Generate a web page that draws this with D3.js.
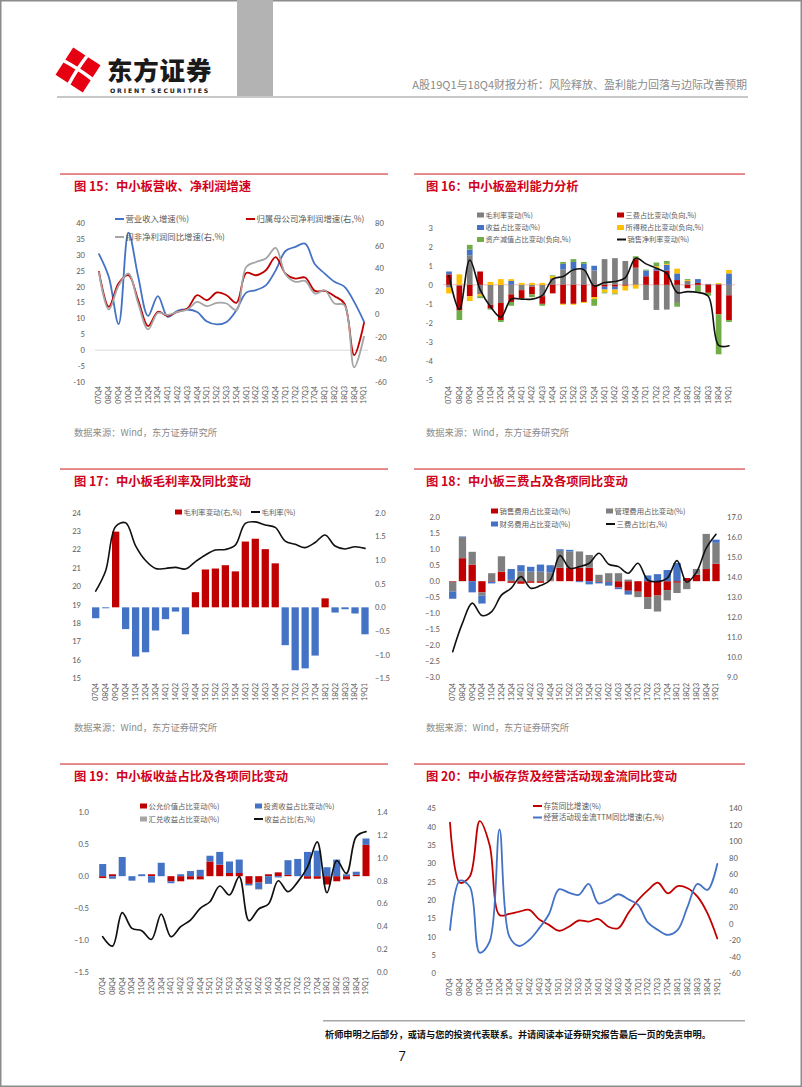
<!DOCTYPE html>
<html><head><meta charset="utf-8">
<script src="https://cdn.jsdelivr.net/npm/d3@7"></script>
<style>
html,body{margin:0;padding:0;background:#fff;}
svg{display:block;}
</style></head>
<body><svg id="page" width="802" height="1087"></svg>
<script>
// ---------------- DATA ----------------
const categories = ["07Q4","08Q4","09Q4","10Q4","11Q4","12Q4","13Q4","14Q1","14Q2","14Q3","14Q4","15Q1","15Q2","15Q3","15Q4","16Q1","16Q2","16Q3","16Q4","17Q1","17Q2","17Q3","17Q4","18Q1","18Q2","18Q3","18Q4","19Q1"];

// 图15
const c15Revenue   = [30.2,23,8.2,37,23,10.8,17,10.5,12.4,12.8,12,9,8.1,8.9,12.6,18.1,18.9,20.4,25.1,31.2,32.5,33.5,27,24.1,21.5,20,15.2,9];
const c15NetProfit = [37,6.2,27,34,12,-10.8,1.8,-1.7,1.8,4.7,16.4,12,18.8,16.4,9.7,36,34,38.4,50,35.5,31,32,20.2,20.2,15.6,9.1,-36.3,-7.9];
const c15Deducted  = [36,3.8,25,35.5,9,-13.7,0.9,-1,1.8,3.8,10.6,6.8,9.7,9.1,3.3,41.3,45.7,48.7,58,34.9,28.2,29,17.9,20.8,9.1,7.7,-47,-20];
const c15LeftTicks  = [40,35,30,25,20,15,10,5,0,-5,-10];
const c15RightTicks = [80,60,40,20,0,-20,-40,-60];

// 图16
const c16Gross  = [-0.15,-0.05,1.55,-0.5,-1.05,-0.95,-0.5,-0.28,-0.1,-0.6,0.35,0.8,0.8,0.8,0.75,1.35,1.4,1.25,0.9,-0.8,-1.32,-1.3,-0.95,0.2,-0.05,0.05,0.05,-0.55];
const c16Fee    = [0.55,-1.3,-0.6,0.7,-0.2,-0.9,-0.4,-0.42,-0.4,-0.4,-0.45,-1.0,-1.0,-0.9,-0.65,-0.1,-0.1,-0.05,0.45,0.45,0.75,0.75,0.25,-0.18,0.1,-0.42,-1.55,-1.3];
const c16Income = [0.15,0,0.3,0,0,0,0.2,0,0,0,0,0.3,0.4,0.3,0.25,-0.15,-0.15,0,0,0.3,0.12,0.3,0.35,0,0.2,0,0,0.6];
const c16Tax    = [-0.3,0.55,-0.25,-0.1,0.15,0.3,0.1,0.1,0.1,0.1,0.1,-0.05,-0.05,-0.05,-0.1,-0.15,-0.2,-0.25,-0.2,0,0.1,0.05,0.25,0.05,0,0,0.05,0.18];
const c16Impair = [0,-0.5,0.25,-0.1,-0.05,-0.1,-0.2,-0.05,-0.15,-0.1,0.05,0.1,0.15,0.1,-0.35,-0.05,-0.05,0,0.15,0.05,0.2,0.15,-0.2,0.05,-0.35,-0.15,-2.1,-0.1];
const c16NetMargin = [0.47,-1.3,1.3,-0.25,-1.15,-1.7,-0.75,-0.75,-0.75,-0.55,0.3,0.44,0.79,0.8,-0.06,0.12,0.17,0.38,1.4,1.1,0.87,0.6,-0.4,-0.36,-0.4,-0.6,-3.18,-3.2];
const c16Ticks = [3,2,1,0,-1,-2,-3,-4,-5];

// 图17
const c17Change = [-0.23,-0.02,1.6,-0.46,-1.04,-0.95,-0.49,-0.25,-0.09,-0.57,0.32,0.8,0.82,0.89,0.76,1.39,1.45,1.23,0.93,-0.8,-1.33,-1.29,-1.02,0.19,-0.11,-0.04,-0.13,-0.57];
const c17Gross  = [19.74,20.85,23.25,23.45,22.2,21.4,20.97,20.97,21.03,20.94,21.34,21.7,21.97,22.0,22.24,23.42,23.5,23.33,23.2,22.46,22.28,22.1,22.38,22.79,22.19,22.03,22.15,22.06];
const c17LeftTicks  = [24,23,22,21,20,19,18,17,16,15];
const c17RightTicks = [2.0,1.5,1.0,0.5,0.0,-0.5,-1.0,-1.5];

// 图18
const c18Sales = [-0.02,0.72,0.52,-0.35,-0.02,0.3,-0.05,-0.08,-0.05,-0.05,0.02,0.42,0.42,0.42,0.42,-0.02,-0.02,-0.2,-0.3,-0.33,-0.5,-0.45,-0.28,-0.05,0.1,0.2,0.38,0.55];
const c18Admin = [-0.3,0.66,0.4,-0.1,0.25,0.48,0.04,0.3,0.3,0.3,0.25,0.53,0.51,0.51,0.4,0.2,0.25,0.25,0.05,-0.17,-0.37,-0.5,-0.32,-0.32,-0.25,0.18,1.1,0.65];
const c18Fin   = [-0.23,0.02,-0.35,-0.25,-0.05,0,0.34,0.2,0.15,0.22,0.23,0.05,0.05,-0.03,-0.1,-0.05,-0.12,-0.05,-0.12,0,0.18,0.22,0.35,0.57,0,0,0,0.1];
const c18Total = [10.27,11.7,12.7,12.08,12.28,13.1,13.45,14.03,13.45,13.58,13.86,15.08,14.45,14.53,14.7,15.2,14.65,14.53,14.2,14.7,13.86,13.78,13.95,14.83,13.75,14.25,15.45,16.15];
const c18LeftTicks  = [2.0,1.5,1.0,0.5,0.0,-0.5,-1.0,-1.5,-2.0,-2.5,-3.0];
const c18RightTicks = [17.0,16.0,15.0,14.0,13.0,12.0,11.0,10.0,9.0];

// 图19
const c19Fair   = [-0.03,0.03,0,0,0,0.03,0,-0.08,-0.08,-0.05,-0.05,0.23,0.18,0.05,0.05,-0.12,-0.1,0.03,0.06,0.02,0,-0.04,-0.04,-0.13,-0.08,-0.05,0.02,0.49];
const c19Invest = [0.19,-0.04,0.3,-0.07,0.03,-0.1,0.21,-0.03,0.03,0.08,0.1,0.09,0.2,0.18,0.21,-0.02,-0.1,-0.12,-0.02,0.23,0.27,0.38,0.4,0.14,0.26,0.03,0.05,0.1];
const c19FX     = [0,0,0,0,0,0,0,0,0,0,0,0,0,0,0,-0.01,-0.01,0,0,0,0,0,0,0,0,0.01,0,0];
const c19Share  = [0.309,0.227,0.52,0.382,0.362,0.286,0.508,0.309,0.397,0.455,0.558,0.616,0.754,0.675,0.836,0.45,0.552,0.596,0.8,0.704,0.79,0.92,1.14,0.695,0.976,0.865,1.187,1.23];
const c19LeftTicks  = [1.0,0.5,0.0,-0.5,-1.0,-1.5];
const c19RightTicks = [1.4,1.2,1.0,0.8,0.6,0.4,0.2,0.0];

// 图20
const c20Inventory = [41.1,24.7,26.4,41.5,35,15.9,16.2,16.8,17.3,14.7,13.2,11.6,12.7,14.4,14.1,14.8,12.7,12.3,16.4,20,22.7,24.7,21.8,23.8,23.2,20.9,16.4,9.5];
const c20Cashflow  = [-7.5,52.3,45,-35,-21.6,114.5,-15.6,-26.9,-19.6,-5.5,11.9,41.8,37.8,35,48.3,24.8,28.9,35.8,29.7,22.8,1.4,-7.5,-13.5,-7.5,20.8,48.3,41,72.5];
const c20LeftTicks  = [45,40,35,30,25,20,15,10,5,0];
const c20RightTicks = [140,120,100,80,60,40,20,0,-20,-40,-60];

// ---------------- STYLE ----------------
const CJK = "'Noto Sans CJK SC','Noto Sans',sans-serif";
const NUM = "Lato,'Liberation Sans',sans-serif";
const AX = "#595959";
const RED = "#C00000", BLUE = "#4472C4", GRAY = "#7F7F7F", LGRAY = "#A5A5A5", YEL = "#FFC000", GRN = "#70AD47";

const svg = d3.select("#page");

// page frame
svg.append("rect").attr("x",0.75).attr("y",0.75).attr("width",800.5).attr("height",1085.5)
  .attr("fill","none").attr("stroke","#8c8c8c").attr("stroke-width",1.5);

// ---------------- HEADER ----------------
svg.append("rect").attr("x",237).attr("y",0).attr("width",36).attr("height",96).attr("fill","#B3B3B3");
svg.append("rect").attr("x",57).attr("y",96).attr("width",691).attr("height",2).attr("fill","#C8C8C8");
const logo = svg.append("g").attr("transform","translate(78,70) rotate(-12)");
logo.append("path").attr("d","M0,-23 L23,0 L0,23 L-23,0 Z").attr("fill","#E60012");
logo.append("path").attr("d","M-12,-12 Q0,-2 12,12").attr("stroke","#fff").attr("stroke-width",3.5).attr("fill","none");
logo.append("path").attr("d","M12,-12 Q-2,0 -12,12").attr("stroke","#fff").attr("stroke-width",3.5).attr("fill","none");
svg.append("text").attr("x",107).attr("y",79.5).attr("font-family",CJK).attr("font-weight",900)
  .attr("font-size",25.5).attr("fill","#1a1a1a").attr("letter-spacing",0.8).text("东方证券");
svg.append("text").attr("x",110).attr("y",92.5).attr("font-family","'DejaVu Sans',sans-serif").attr("font-weight",700)
  .attr("font-size",6.2).attr("fill","#1a1a1a").attr("letter-spacing",1.85).text("ORIENT SECURITIES");
svg.append("text").attr("x",747).attr("y",89).attr("text-anchor","end").attr("font-family",CJK)
  .attr("font-size",11).attr("fill","#8a8a8a").text("A股19Q1与18Q4财报分析：风险释放、盈利能力回落与边际改善预期");

// ---------------- FOOTER ----------------
svg.append("rect").attr("x",323).attr("y",1020).attr("width",422).attr("height",1.5).attr("fill","#A6A6A6");
svg.append("text").attr("x",325).attr("y",1037.5).attr("font-family",CJK).attr("font-weight",700)
  .attr("font-size",9.2).attr("fill","#111").text("析师申明之后部分，或请与您的投资代表联系。并请阅读本证券研究报告最后一页的免责申明。");
svg.append("text").attr("x",402).attr("y",1061).attr("text-anchor","middle").attr("font-family",NUM)
  .attr("font-size",12.5).attr("fill","#111").text("7");

// ---------------- HELPERS ----------------
function panelFrame(x0, x1, lineY, title, titleX, source) {
  svg.append("rect").attr("x",x0).attr("y",lineY-0.75).attr("width",x1-x0).attr("height",1.6).attr("fill","#E07070");
  svg.append("text").attr("x",titleX).attr("y",lineY+16.5).attr("font-family",CJK).attr("font-weight",700)
    .attr("font-size",12.3).attr("fill","#D0021B").text(title);
  if (source) {
    svg.append("text").attr("x",titleX).attr("y",lineY+262).attr("font-family",CJK)
      .attr("font-size",9.3).attr("fill","#8a8a8a").text("数据来源：Wind，东方证券研究所");
  }
}
function bandX(x0, x1, pad) {
  const s = (x1 - x0) / (categories.length - 1);
  const x = d3.scaleBand().domain(categories).range([x0 - s/2, x1 + s/2]).paddingInner(pad).paddingOuter(pad/2);
  x.center = c => x(c) + x.bandwidth()/2;
  return x;
}
function xLabels(g, x, y) {
  g.append("g").selectAll("text").data(categories).join("text")
    .attr("transform", d => `translate(${x.center(d)},${y}) rotate(-90)`)
    .attr("text-anchor","end").attr("dy","0.35em")
    .attr("font-family",NUM).attr("font-size",7).attr("fill",AX).text(d => d);
}
function yAxis(g, scale, ticks, xpos, side, fmt) {
  const ax = (side === "left" ? d3.axisLeft(scale) : d3.axisRight(scale))
    .tickValues(ticks).tickSize(0).tickPadding(0).tickFormat(fmt || (d => d));
  const a = g.append("g").attr("transform",`translate(${xpos},0)`).call(ax);
  a.select(".domain").remove();
  a.selectAll("text").attr("font-family",NUM).attr("font-size",7.6).attr("fill",AX);
}
function stackExcel(seriesList) {
  const n = categories.length;
  const pos = new Array(n).fill(0), neg = new Array(n).fill(0);
  return seriesList.map(s => s.values.map((v, i) => {
    let y0, y1;
    if (v >= 0) { y0 = pos[i]; y1 = pos[i] + v; pos[i] = y1; }
    else { y0 = neg[i]; y1 = neg[i] + v; neg[i] = y1; }
    return {cat: categories[i], y0, y1, color: s.color};
  }));
}
function drawStack(g, x, y, stacked) {
  stacked.forEach(layer => {
    g.append("g").selectAll("rect").data(layer.filter(d => d.y0 !== d.y1)).join("rect")
      .attr("x", d => x(d.cat)).attr("width", x.bandwidth())
      .attr("y", d => y(Math.max(d.y0, d.y1)))
      .attr("height", d => Math.abs(y(d.y0) - y(d.y1)))
      .attr("fill", d => d.color);
  });
}
function drawLine(g, x, y, values, color, width) {
  const line = d3.line().x((d, i) => x.center(categories[i])).y(d => y(d)).curve(d3.curveCatmullRom.alpha(0.5));
  g.append("path").datum(values).attr("d", line).attr("fill","none")
    .attr("stroke", color).attr("stroke-width", width).attr("stroke-linejoin","round").attr("stroke-linecap","round");
}
function legend(g, items, fontSize) {
  items.forEach(it => {
    if (it.type === "rect") {
      g.append("rect").attr("x", it.x).attr("y", it.y - 2.5).attr("width", 7).attr("height", 5).attr("fill", it.color);
    } else {
      g.append("line").attr("x1", it.x).attr("x2", it.x + 9).attr("y1", it.y).attr("y2", it.y)
        .attr("stroke", it.color).attr("stroke-width", 2);
    }
    g.append("text").attr("x", it.x + (it.type === "rect" ? 8.5 : 10.5)).attr("y", it.y).attr("dy","0.35em")
      .attr("font-family", CJK).attr("font-size", fontSize || 7.5).attr("fill", AX).text(it.label);
  });
}
const f1 = d3.format(".1f");

// ---------------- 图15 ----------------
panelFrame(60, 388, 174, "图 15：中小板营收、净利润增速", 74, true);
{
  const g = svg.append("g");
  const x = bandX(99, 364, 0);
  const yL = d3.scaleLinear().domain([-10, 40]).range([382, 223]);
  const yR = d3.scaleLinear().domain([-60, 80]).range([382, 223]);
  g.append("line").attr("x1", 95).attr("x2", 368).attr("y1", yL(0)).attr("y2", yL(0)).attr("stroke","#D9D9D9").attr("stroke-width",1);
  yAxis(g, yL, c15LeftTicks, 85, "left");
  yAxis(g, yR, c15RightTicks, 375, "right");
  xLabels(g, x, 386);
  drawLine(g, x, yL, c15Revenue, BLUE, 1.8);
  drawLine(g, x, yR, c15NetProfit, RED, 1.8);
  drawLine(g, x, yR, c15Deducted, LGRAY, 1.8);
  legend(g, [
    {type:"line", color:BLUE, label:"营业收入增速(%)", x:115, y:219},
    {type:"line", color:RED, label:"归属母公司净利润增速(右,%)", x:246, y:219},
    {type:"line", color:LGRAY, label:"扣非净利润同比增速(右,%)", x:115, y:237}
  ], 8.4);
}

// ---------------- 图16 ----------------
panelFrame(414, 745, 174, "图 16：中小板盈利能力分析", 426, true);
{
  const g = svg.append("g");
  const x = bandX(449, 729, 0.45);
  const y = d3.scaleLinear().domain([-5, 3]).range([380, 227.7]);
  yAxis(g, y, c16Ticks, 433, "left");
  xLabels(g, x, 386);
  g.append("line").attr("x1", 443).attr("x2", 735).attr("y1", y(0)).attr("y2", y(0)).attr("stroke","#F2BDBD").attr("stroke-width",1);
  drawStack(g, x, y, stackExcel([
    {values:c16Gross, color:GRAY}, {values:c16Fee, color:RED}, {values:c16Income, color:BLUE},
    {values:c16Tax, color:YEL}, {values:c16Impair, color:GRN}
  ]));
  drawLine(g, x, y, c16NetMargin, "#111", 1.6);
  legend(g, [
    {type:"rect", color:GRAY, label:"毛利率变动(%)", x:477, y:215},
    {type:"rect", color:RED, label:"三费占比变动(负向,%)", x:617, y:215},
    {type:"rect", color:BLUE, label:"收益占比变动(%)", x:477, y:227.5},
    {type:"rect", color:YEL, label:"所得税占比变动(负向,%)", x:617, y:227.5},
    {type:"rect", color:GRN, label:"资产减值占比变动(负向,%)", x:477, y:239.5},
    {type:"line", color:"#111", label:"销售净利率变动(%)", x:617, y:239.5}
  ], 7.2);
}

// ---------------- 图17 ----------------
panelFrame(60, 388, 469, "图 17：中小板毛利率及同比变动", 74, true);
{
  const g = svg.append("g");
  const x = bandX(95.7, 365, 0.27);
  const yL = d3.scaleLinear().domain([15, 24]).range([678.3, 512.7]);
  const yR = d3.scaleLinear().domain([-1.5, 2.0]).range([678.3, 512.7]);
  yAxis(g, yL, c17LeftTicks, 81, "left");
  yAxis(g, yR, c17RightTicks, 375, "right", f1);
  xLabels(g, x, 683);
  g.append("g").selectAll("rect").data(c17Change.map((v, i) => ({cat: categories[i], v}))).join("rect")
    .attr("x", d => x(d.cat)).attr("width", x.bandwidth())
    .attr("y", d => yR(Math.max(0, d.v))).attr("height", d => Math.abs(yR(d.v) - yR(0)))
    .attr("fill", d => d.v >= 0 ? RED : BLUE);
  drawLine(g, x, yL, c17Gross, "#111", 1.6);
  legend(g, [
    {type:"rect", color:RED, label:"毛利率变动(右,%)", x:175, y:512},
    {type:"line", color:"#111", label:"毛利率(%)", x:251, y:512}
  ], 7.4);
}

// ---------------- 图18 ----------------
panelFrame(414, 745, 469, "图 18：中小板三费占及各项同比变动", 426, true);
{
  const g = svg.append("g");
  const x = bandX(452.7, 716, 0.25);
  const yL = d3.scaleLinear().domain([-3, 2]).range([677, 517.3]);
  const yR = d3.scaleLinear().domain([9, 17]).range([677, 517.3]);
  yAxis(g, yL, c18LeftTicks, 440, "left", f1);
  yAxis(g, yR, c18RightTicks, 727, "right", f1);
  xLabels(g, x, 683);
  drawStack(g, x, yL, stackExcel([
    {values:c18Sales, color:RED}, {values:c18Admin, color:GRAY}, {values:c18Fin, color:BLUE}
  ]));
  drawLine(g, x, yR, c18Total, "#111", 1.6);
  legend(g, [
    {type:"rect", color:RED, label:"销售费用占比变动(%)", x:491, y:511},
    {type:"rect", color:GRAY, label:"管理费用占比变动(%)", x:606, y:511},
    {type:"rect", color:BLUE, label:"财务费用占比变动(%)", x:491, y:524},
    {type:"line", color:"#111", label:"三费占比(右,%)", x:606, y:524}
  ], 7.4);
}

// ---------------- 图19 ----------------
panelFrame(60, 388, 764, "图 19：中小板收益占比及各项同比变动", 74, false);
{
  const g = svg.append("g");
  const x = bandX(102.7, 366, 0.28);
  const yL = d3.scaleLinear().domain([-1.5, 1.0]).range([972, 812.3]);
  const yR = d3.scaleLinear().domain([0, 1.4]).range([972, 812.3]);
  yAxis(g, yL, c19LeftTicks, 89, "left", f1);
  yAxis(g, yR, c19RightTicks, 377, "right", f1);
  xLabels(g, x, 977);
  drawStack(g, x, yL, stackExcel([
    {values:c19Fair, color:RED}, {values:c19Invest, color:BLUE}, {values:c19FX, color:LGRAY}
  ]));
  drawLine(g, x, yR, c19Share, "#111", 1.7);
  legend(g, [
    {type:"rect", color:RED, label:"公允价值占比变动(%)", x:140, y:806},
    {type:"rect", color:BLUE, label:"投资收益占比变动(%)", x:255, y:806},
    {type:"rect", color:LGRAY, label:"汇兑收益占比变动(%)", x:140, y:819},
    {type:"line", color:"#111", label:"收益占比(右,%)", x:254, y:819}
  ], 7.4);
}

// ---------------- 图20 ----------------
panelFrame(414, 745, 764, "图 20：中小板存货及经营活动现金流同比变动", 426, false);
{
  const g = svg.append("g");
  const x = bandX(450, 717.3, 0);
  const yL = d3.scaleLinear().domain([0, 45]).range([973.3, 808.3]);
  const yR = d3.scaleLinear().domain([-60, 140]).range([973.3, 808.3]);
  yAxis(g, yL, c20LeftTicks, 436, "left");
  yAxis(g, yR, c20RightTicks, 729, "right");
  xLabels(g, x, 978);
  drawLine(g, x, yL, c20Inventory, RED, 1.8);
  drawLine(g, x, yR, c20Cashflow, BLUE, 1.8);
  legend(g, [
    {type:"line", color:RED, label:"存货同比增速(%)", x:533, y:806},
    {type:"line", color:BLUE, label:"经营活动现金流TTM同比增速(右,%)", x:533, y:817.5}
  ], 7.6);
}
</script>
</body></html>
